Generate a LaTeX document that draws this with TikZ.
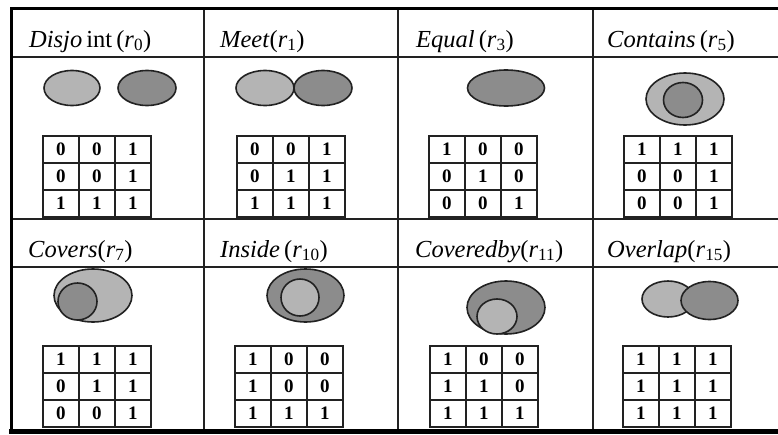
\documentclass[tikz,border=0pt]{standalone}
\usepackage{fontspec}
\setmainfont{Liberation Serif}

\definecolor{lightreg}{HTML}{B4B4B4}
\definecolor{darkreg}{HTML}{8C8C8C}
\definecolor{rule}{HTML}{222222}

\tikzset{
	region/.style={draw=rule, line width=1.6pt},
	cellbox/.style={draw=rule, line width=1.6pt, anchor=north west,
		minimum width=36pt, minimum height=27pt, inner sep=0pt,
		font=\fontsize{19}{19}\selectfont\bfseries},
	relname/.style={anchor=base west, inner sep=0pt,
		font=\fontsize{24.5}{28}\selectfont},
}

% 3x3 intersection matrix: name, left, top, values row by row
\newcommand{\relmat}[4]{%
	\foreach \v [count=\i from 0] in {#4} {
		\pgfmathtruncatemacro\cc{mod(\i,3)}
		\pgfmathtruncatemacro\rr{div(\i,3)}
		\node [cellbox] (#1-\rr\cc) at ({#2+36*\cc},{#3+27*\rr}) {\v};
	}%
}

\begin{document}
\begin{tikzpicture}[x=1pt, y=-1pt]
	\useasboundingbox (0,0) rectangle (778,434);
	\fill [white] (0,0) rectangle (778,434);

	% table rules
	\draw [rule, line width=1.2pt] (11,57) -- (778,57);
	\draw [rule, line width=1.4pt] (11,219) -- (778,219);
	\draw [rule, line width=1.2pt] (11,267) -- (778,267);
	\foreach \xx in {204,398,593}
		\draw [rule, line width=1.2pt] (\xx,8) -- (\xx,430);
	\draw [black, line width=3pt] (10,8.5) -- (778,8.5);
	\draw [black, line width=3pt] (11,7) -- (11,430);
	\draw [black, line width=5pt] (9,431.5) -- (778,431.5);

	% relation names
	\node [relname] (n0) at (29,47) {\textit{Disjo}\,int\,(\textit{r}\textsubscript{0})};
	\node [relname] (n1) at (220,47) {\textit{Meet}(\textit{r}\textsubscript{1})};
	\node [relname] (n3) at (416,47) {\textit{Equal}\,(\textit{r}\textsubscript{3})};
	\node [relname] (n5) at (607,47) {\textit{Contains}\,(\textit{r}\textsubscript{5})};
	\node [relname] (n7) at (28,257) {\textit{Covers}(\textit{r}\textsubscript{7})};
	\node [relname] (n10) at (220,257) {\textit{Inside}\,(\textit{r}\textsubscript{10})};
	\node [relname] (n11) at (415,257) {\textit{Coveredby}(\textit{r}\textsubscript{11})};
	\node [relname] (n15) at (607,257) {\textit{Overlap}(\textit{r}\textsubscript{15})};

	% regions, first row
	\draw [region, fill=lightreg] (72,88) ellipse [x radius=28pt, y radius=17.5pt];
	\draw [region, fill=darkreg] (147,88) ellipse [x radius=29pt, y radius=17.5pt];
	\draw [region, fill=lightreg] (265,88) ellipse [x radius=29pt, y radius=17.5pt];
	\draw [region, fill=darkreg] (323,88) ellipse [x radius=29pt, y radius=17.5pt];
	\draw [region, fill=darkreg] (506,88) ellipse [x radius=38.5pt, y radius=18pt];
	\draw [region, fill=lightreg] (685,99) ellipse [x radius=39pt, y radius=26pt];
	\draw [region, fill=darkreg] (683,100) ellipse [x radius=19.5pt, y radius=17.5pt];

	% regions, second row
	\draw [region, fill=lightreg] (93,295.5) ellipse [x radius=39pt, y radius=26.5pt];
	\draw [region, fill=darkreg] (77.5,301.5) ellipse [x radius=19.5pt, y radius=18.5pt];
	\draw [region, fill=darkreg] (305.5,295.5) ellipse [x radius=38.5pt, y radius=26.5pt];
	\draw [region, fill=lightreg] (300,297.5) ellipse [x radius=19pt, y radius=18.5pt];
	\draw [region, fill=darkreg] (506,307.5) ellipse [x radius=39pt, y radius=26.5pt];
	\draw [region, fill=lightreg] (497,316.5) ellipse [x radius=20pt, y radius=17.5pt];
	\draw [region, fill=lightreg] (668,299) ellipse [x radius=26pt, y radius=18pt];
	\draw [region, fill=darkreg] (709.5,300.5) ellipse [x radius=28.5pt, y radius=19pt];

	% intersection matrices
	\relmat{m0}{42}{135}{0,0,1,0,0,1,1,1,1}
	\relmat{m1}{236}{135}{0,0,1,0,1,1,1,1,1}
	\relmat{m3}{428}{135}{1,0,0,0,1,0,0,0,1}
	\relmat{m5}{623}{135}{1,1,1,0,0,1,0,0,1}
	\relmat{m7}{42}{345}{1,1,1,0,1,1,0,0,1}
	\relmat{m10}{234}{345}{1,0,0,1,0,0,1,1,1}
	\relmat{m11}{429}{345}{1,0,0,1,1,0,1,1,1}
	\relmat{m15}{622}{345}{1,1,1,1,1,1,1,1,1}
\end{tikzpicture}
\end{document}
